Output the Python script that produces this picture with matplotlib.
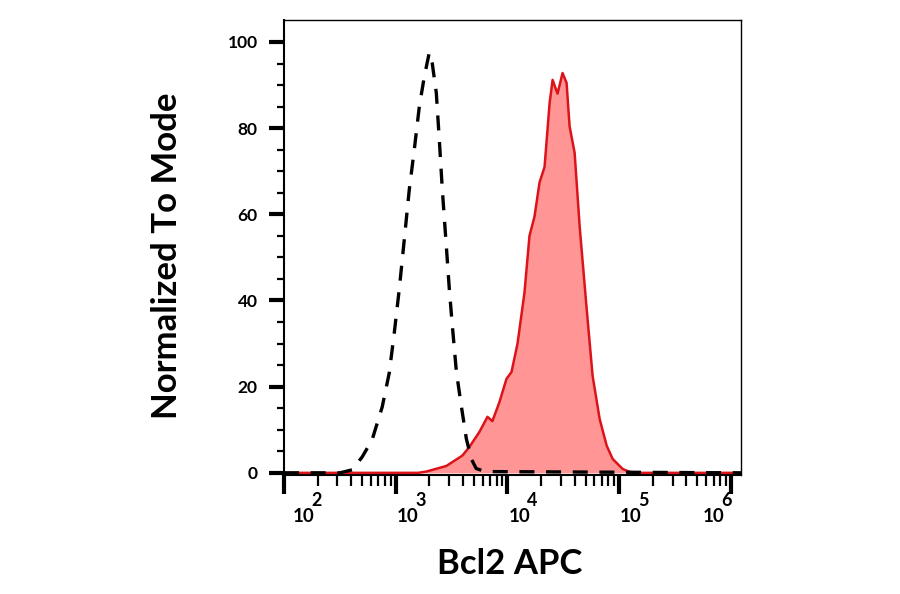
import numpy as np
import matplotlib
matplotlib.use("Agg")
import matplotlib.pyplot as plt
from matplotlib.ticker import FixedLocator, NullFormatter
from matplotlib.transforms import ScaledTranslation

plt.rcParams['font.family'] = ['Lato', 'DejaVu Sans']

# isotype control (dashed), log10 of intensity vs % of mode
iso_log10 = [2.00, 2.50, 2.61, 2.70, 2.789, 2.879, 2.942, 2.987, 3.031, 3.076,
             3.121, 3.166, 3.211, 3.256, 3.300, 3.327, 3.363, 3.390, 3.417,
             3.453, 3.480, 3.507, 3.543, 3.587, 3.632, 3.677, 3.72, 3.80, 6.09]
iso_mode = [0, 0, 0.7, 3.7, 7.7, 15.3, 23.2, 32.5, 42.5, 54,
            65.7, 75, 85, 92, 97.5, 95, 88.2, 77.3, 65.7,
            52.5, 42.5, 34, 23.4, 15.5, 7.9, 3.2, 1.0, 0.3, 0]

# Bcl2 APC stained sample (red filled)
bcl2_log10 = [2.00, 3.20, 3.274, 3.453, 3.596, 3.659, 3.749, 3.821, 3.865, 3.928,
              3.991, 4.036, 4.090, 4.152, 4.197, 4.242, 4.287, 4.332, 4.377,
              4.404, 4.448, 4.493, 4.529, 4.556, 4.601, 4.646, 4.709, 4.762,
              4.825, 4.888, 4.942, 5.031, 5.094, 5.18, 6.09]
bcl2_mode = [0, 0, 0.3, 1.6, 4.0, 6.0, 9.5, 13, 12, 16.4,
             21.8, 23.4, 30, 41.8, 55, 59.5, 67.4, 71, 85.8,
             91.2, 88, 92.8, 90.5, 80.4, 74.3, 57.2, 38, 22.5,
             12.5, 6.3, 3.2, 0.9, 0.2, 0, 0]

xtick_exp = [2, 3, 4, 5, 6]
ytick_vals = [0, 20, 40, 60, 80, 100]

iso_x = 10 ** np.array(iso_log10)
bcl2_x = 10 ** np.array(bcl2_log10)

fig = plt.figure(figsize=(9, 5.94), dpi=100)
ax = fig.add_axes([284 / 900, 1 - 475 / 594, 457 / 900, 455 / 594])

ax.fill_between(bcl2_x, bcl2_mode, 0, color='#ff9595', lw=0, zorder=2)
ax.plot(bcl2_x, bcl2_mode, color='#dc141a', lw=1.8, zorder=3)
ax.plot(iso_x, iso_mode, color='black', lw=2.4, ls=(0, (4.5, 3.5)), zorder=4)

ax.set_xscale('log')
ax.set_xlim(1e2, 10 ** 6.09)
ax.set_ylim(-0.5, 105.1)

# x ticks (labels drawn by hand below: FlowJo style 10 + big exponent)
ax.xaxis.set_major_locator(FixedLocator([10.0 ** e for e in xtick_exp]))
minors = [m * 10.0 ** e for e in xtick_exp[:-1] for m in range(2, 10)]
ax.xaxis.set_minor_locator(FixedLocator(minors))
ax.xaxis.set_minor_formatter(NullFormatter())
ax.set_xticklabels([])
ax.tick_params(axis='x', which='major', direction='out', length=14, width=3)
ax.tick_params(axis='x', which='minor', direction='out', length=8, width=1.6)

xform = ax.get_xaxis_transform()
nudge_px = {2: 9, 6: -28}
for e in xtick_exp:
    dx = nudge_px.get(e, 1) / 100
    t = ax.text(10.0 ** e, -46.7 / 455, '10', transform=xform + ScaledTranslation(dx, 0, fig.dpi_scale_trans),
                ha='left', va='baseline', fontsize=13.5, fontweight='bold')
    ax.annotate(str(e), xy=(1, 0), xycoords=t, xytext=(-2.5, 13.5), textcoords='offset points',
                ha='left', va='baseline', fontsize=13, fontweight='bold')

# y ticks
ax.set_yticks(ytick_vals)
ax.set_yticks([v for v in range(5, 105, 5) if v % 20 != 0], minor=True)
ax.tick_params(axis='y', which='major', direction='out', length=11, width=3,
               labelsize=12.5, pad=8)
ax.tick_params(axis='y', which='minor', direction='out', length=5, width=1.6)
for lab in ax.get_yticklabels():
    lab.set_fontweight('bold')

for side in ['left', 'bottom']:
    ax.spines[side].set_linewidth(1.5)
for side in ['top', 'right']:
    ax.spines[side].set_linewidth(1.0)

fig.text(177 / 900, 1 - 256 / 594, 'Normalized To Mode', rotation=90,
         rotation_mode='anchor', ha='center', va='baseline',
         fontsize=25, fontweight='bold')
fig.text(510 / 900, 1 - 574 / 594, 'Bcl2 APC', ha='center', va='baseline',
         fontsize=25, fontweight='bold')

fig.savefig('out.png', dpi=100)
